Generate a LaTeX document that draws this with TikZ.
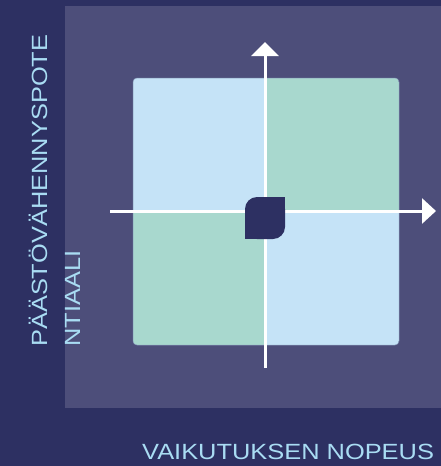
\documentclass[tikz,border=0pt]{standalone}
\usepackage{fontspec}
\setmainfont{Liberation Sans}
\newfontfamily\labfont[FakeStretch=1.155]{Liberation Sans}
\usetikzlibrary{arrows.meta}
\definecolor{bgnavy}{RGB}{45,48,98}
\definecolor{panel}{RGB}{77,78,122}
\definecolor{qblue}{RGB}{197,227,247}
\definecolor{qgreen}{RGB}{168,216,206}
\definecolor{qedge}{RGB}{140,160,190}
\definecolor{labc}{RGB}{169,220,243}
\tikzset{
  axisline/.style={draw=white, line width=3pt},
  lab/.style={text=labc, font=\labfont\fontsize{22pt}{33pt}\selectfont, inner sep=0pt, align=left}
}
\begin{document}
\begin{tikzpicture}[x=1pt,y=-1pt]
\useasboundingbox (0,0) rectangle (441,466);
\fill[bgnavy] (0,0) rectangle (441,466);
\fill[panel] (65,6) rectangle (441,408);
% quadrants
\begin{scope}
\clip[rounded corners=4pt] (133,78) rectangle (399,345);
\fill[qblue] (133,78) rectangle (265,211);
\fill[qgreen] (265,78) rectangle (399,211);
\fill[qgreen] (133,211) rectangle (265,345);
\fill[qblue] (265,211) rectangle (399,345);
\end{scope}
\draw[qedge, line width=0.5pt, rounded corners=4pt] (133,78) rectangle (399,345);
% axes
\coordinate (vb) at (265,368);
\coordinate (vt) at (265,42);
\coordinate (hl) at (110,211);
\coordinate (hr) at (436,211);
\draw[axisline, -{Triangle[width=27pt,length=14pt]}] (vb) -- (vt);
\draw[axisline, -{Triangle[width=25pt,length=14pt]}] (hl) -- (hr);
% center leaf
\fill[bgnavy, rounded corners=12pt] (245,197) rectangle (285,239);
\fill[bgnavy] (265,197) rectangle (285,218);
\fill[bgnavy] (245,218) rectangle (265,239);
% labels
\node[lab, rotate=90, anchor=base west] (ylab) at (80,347) {PÄÄSTÖVÄHENNYSPOTE\\NTIAALI};
\node[lab, anchor=base west] (xlab) at (142,459) {VAIKUTUKSEN NOPEUS};
\end{tikzpicture}
\end{document}
